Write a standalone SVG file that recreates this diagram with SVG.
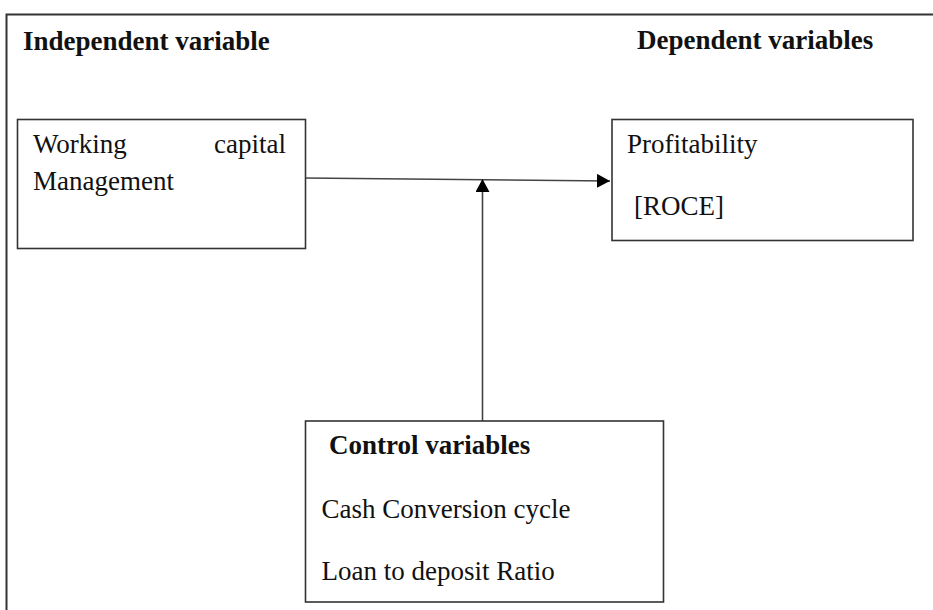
<svg xmlns="http://www.w3.org/2000/svg" width="933" height="610" viewBox="0 0 933 610">
<defs>
<style>
.t{font-family:"Liberation Serif","Times New Roman",serif;font-size:27px;fill:#111}
.b{font-weight:bold}
.box{fill:#fff;stroke:#333;stroke-width:1.6}
.ln{stroke:#444;stroke-width:1.6;fill:none}
</style>
<marker id="ah" markerWidth="10" markerHeight="10" refX="9" refY="5" orient="auto" markerUnits="userSpaceOnUse">
<path d="M0,0 L10,5 L0,10 Z" fill="#000"/>
</marker>
<marker id="ah2" markerWidth="14" markerHeight="14" refX="13" refY="7" orient="auto" markerUnits="userSpaceOnUse">
<path d="M0,0 L13,7 L0,14 Z" fill="#000"/>
</marker>
</defs>
<rect x="0" y="0" width="933" height="610" fill="#fff"/>
<rect id="frame" x="6.5" y="14.5" width="1000" height="1000" fill="none" stroke="#333" stroke-width="2"/>
<g id="headers">
<text class="t b" x="23" y="50">Independent variable</text>
<text class="t b" x="637" y="49">Dependent variables</text>
</g>
<g id="connectors">
<line class="ln" x1="305" y1="178" x2="610" y2="181" marker-end="url(#ah2)"/>
<line class="ln" x1="482.5" y1="421" x2="482.5" y2="179" marker-end="url(#ah2)"/>
</g>
<g id="wcm">
<rect class="box" x="17.5" y="119.5" width="288" height="129"/>
<text class="t" x="33" y="153">Working</text>
<text class="t" x="286" y="153" text-anchor="end">capital</text>
<text class="t" x="33" y="190">Management</text>
</g>
<g id="profitability">
<rect class="box" x="612" y="119.5" width="301" height="121"/>
<text class="t" x="627" y="153">Profitability</text>
<text class="t" x="634" y="215">[ROCE]</text>
</g>
<g id="control">
<rect class="box" x="305.5" y="421" width="358" height="181"/>
<text class="t b" x="329" y="454">Control variables</text>
<text class="t" x="321.5" y="518">Cash Conversion cycle</text>
<text class="t" x="321.5" y="580">Loan to deposit Ratio</text>
</g>
</svg>
